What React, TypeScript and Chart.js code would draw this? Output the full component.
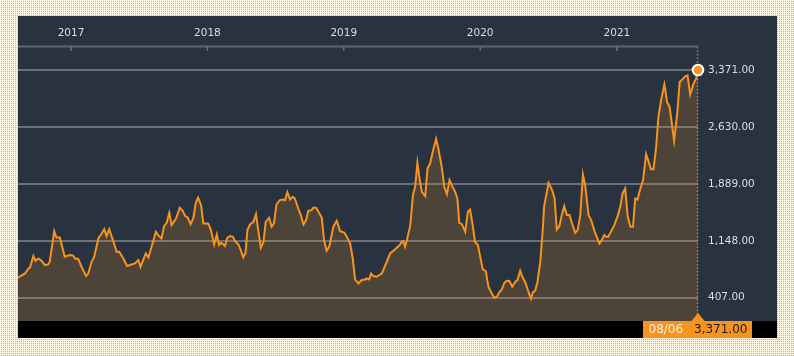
import React, { useEffect, useRef } from "react";
import { Chart, registerables } from "chart.js";

Chart.register(...registerables);

const dates: string[] = [
  "2016-08-12","2016-08-22","2016-08-31","2016-09-09","2016-09-13","2016-09-22","2016-09-28","2016-10-05","2016-10-14","2016-10-23",
  "2016-11-01","2016-11-05","2016-11-17","2016-11-23","2016-12-02","2016-12-15","2016-12-29","2017-01-07","2017-01-12","2017-01-20",
  "2017-01-29","2017-02-10","2017-02-16","2017-02-25","2017-03-04","2017-03-15","2017-03-24","2017-03-31","2017-04-06","2017-04-13",
  "2017-04-24","2017-05-03","2017-05-10","2017-05-21","2017-05-31","2017-06-12","2017-06-21","2017-06-30","2017-07-06","2017-07-13",
  "2017-07-20","2017-07-27","2017-08-07","2017-08-16","2017-08-22","2017-08-31","2017-09-07","2017-09-14","2017-09-21","2017-09-27",
  "2017-10-09","2017-10-19","2017-10-27","2017-11-02","2017-11-09","2017-11-17","2017-11-24","2017-12-01","2017-12-07","2017-12-15",
  "2017-12-21","2018-01-03","2018-01-10","2018-01-19","2018-01-26","2018-02-01","2018-02-06","2018-02-12","2018-02-17","2018-02-23",
  "2018-03-02","2018-03-10","2018-03-16","2018-03-25","2018-03-31","2018-04-07","2018-04-13","2018-04-18","2018-04-25","2018-05-04",
  "2018-05-11","2018-05-17","2018-05-24","2018-05-31","2018-06-06","2018-06-15","2018-06-22","2018-06-28","2018-07-05","2018-07-14",
  "2018-07-23","2018-07-28","2018-08-03","2018-08-10","2018-08-17","2018-08-23","2018-09-01","2018-09-08","2018-09-15","2018-09-22",
  "2018-09-28","2018-10-07","2018-10-11","2018-10-19","2018-10-25","2018-11-03","2018-11-09","2018-11-16","2018-11-23","2018-12-04",
  "2018-12-13","2018-12-22","2019-01-02","2019-01-09","2019-01-18","2019-01-25","2019-01-31","2019-02-09","2019-02-18","2019-02-27",
  "2019-03-03","2019-03-10","2019-03-15","2019-03-21","2019-03-30","2019-04-13","2019-04-26","2019-05-05","2019-05-18","2019-06-01",
  "2019-06-05","2019-06-09","2019-06-14","2019-06-19","2019-06-28","2019-07-05","2019-07-11","2019-07-17","2019-07-22","2019-07-29",
  "2019-08-07","2019-08-13","2019-08-20","2019-08-27","2019-09-05","2019-09-11","2019-09-20","2019-09-27","2019-10-04","2019-10-11",
  "2019-10-17","2019-10-26","2019-11-01","2019-11-06","2019-11-13","2019-11-22","2019-11-29","2019-12-05","2019-12-12","2019-12-18",
  "2019-12-26","2020-01-01","2020-01-08","2020-01-16","2020-01-23","2020-02-01","2020-02-08","2020-02-15","2020-02-22","2020-02-28",
  "2020-03-06","2020-03-12","2020-03-19","2020-03-27","2020-04-04","2020-04-10","2020-04-17","2020-04-23","2020-05-02","2020-05-09",
  "2020-05-16","2020-05-21","2020-05-27","2020-06-02","2020-06-10","2020-06-17","2020-06-20","2020-07-02","2020-07-11","2020-07-18",
  "2020-07-24","2020-07-31","2020-08-07","2020-08-13","2020-08-20","2020-08-27","2020-09-03","2020-09-11","2020-09-18","2020-09-25",
  "2020-10-02","2020-10-08","2020-10-17","2020-10-24","2020-11-02","2020-11-15","2020-11-20","2020-11-28","2020-12-03","2020-12-09",
  "2020-12-18","2020-12-25","2021-01-03","2021-01-10","2021-01-16","2021-01-23","2021-01-30","2021-02-06","2021-02-13","2021-02-19",
  "2021-02-25","2021-03-04","2021-03-12","2021-03-20","2021-03-27","2021-04-02","2021-04-09","2021-04-16","2021-04-22","2021-04-30",
  "2021-05-08","2021-05-12","2021-05-15","2021-05-22","2021-05-28","2021-06-03","2021-06-11","2021-06-18","2021-06-27","2021-07-03",
  "2021-07-09","2021-07-16","2021-07-25","2021-08-01","2021-08-06",
];

const prices: number[] = [
  667, 697, 723, 788, 797, 949, 888, 918, 888, 832,
  840, 875, 1274, 1191, 1191, 940, 962, 953, 914, 914,
  810, 689, 723, 875, 940, 1178, 1243, 1300, 1209, 1300,
  1144, 1005, 1005, 918, 819, 840, 853, 897, 810, 897,
  983, 931, 1113, 1265, 1222, 1178, 1339, 1382, 1512, 1352,
  1438, 1577, 1538, 1473, 1451, 1365, 1438, 1642, 1711, 1612,
  1373, 1373, 1295, 1100, 1230, 1092, 1122, 1105, 1079, 1187,
  1209, 1200, 1144, 1100, 1027, 931, 992, 1287, 1360, 1395,
  1495, 1287, 1057, 1135, 1395, 1447, 1330, 1373, 1625, 1677,
  1685, 1677, 1780, 1685, 1720, 1698, 1568, 1482, 1360, 1417,
  1538, 1547, 1577, 1577, 1525, 1451, 1157, 1018, 1070, 1330,
  1408, 1274, 1256, 1200, 1113, 918, 645, 593, 637, 645,
  658, 645, 723, 689, 680, 723, 875, 983, 1035, 1100,
  1135, 1144, 1070, 1157, 1352, 1742, 1850, 2162, 1980, 1785,
  1729, 2088, 2153, 2305, 2474, 2348, 2110, 1850, 1755, 1937,
  1872, 1785, 1698, 1382, 1365, 1265, 1525, 1555, 1352, 1135,
  1092, 940, 775, 754, 550, 463, 407, 420, 485, 515,
  602, 628, 624, 550, 615, 637, 758, 680, 593, 485,
  394, 476, 498, 602, 875, 1330, 1590, 1902, 1815, 1707,
  1295, 1339, 1495, 1599, 1482, 1482, 1373, 1252, 1287, 1482,
  2010, 1872, 1482, 1417, 1274, 1113, 1144, 1222, 1200, 1200,
  1287, 1352, 1469, 1590, 1763, 1828, 1460, 1330, 1330, 1698,
  1685, 1815, 1937, 2275, 2175, 2080, 2080, 2370, 2760, 2998,
  3180, 3063, 2955, 2890, 2673, 2448, 2782, 3215, 3258, 3288,
  3301, 3050, 3193, 3258, 3371,
];

const yearTicks: string[] = ["2017-01-01", "2018-01-01", "2019-01-01", "2020-01-01", "2021-01-01"];
const priceTicks: number[] = [407, 1148, 1889, 2630, 3371];
const priceMin = 104;
const priceMax = 3670;

const ORANGE = "#f7931e";
const PANEL_BG = "#29333f";
const GRID = "#6b7079";
const LABEL = "#d9dde2";
const FONT = "DejaVu Sans";

const fmt = (v: number) =>
  v.toLocaleString("en-US", { minimumFractionDigits: 2, maximumFractionDigits: 2 });

const overlayPlugin = {
  id: "overlay",
  beforeDatasetsDraw(chart: any) {
    const { ctx, chartArea: ca, scales } = chart;
    const xs = scales.x;
    const lastX = xs.getPixelForValue(Date.parse(dates[dates.length - 1]));
    ctx.save();
    ctx.strokeStyle = "#8a8478";
    ctx.lineWidth = 1.5;
    ctx.setLineDash([1.5, 2]);
    ctx.beginPath();
    ctx.moveTo(Math.round(lastX) - 0.5, ca.top);
    ctx.lineTo(Math.round(lastX) - 0.5, ca.bottom);
    ctx.stroke();
    ctx.restore();
  },
  afterDraw(chart: any) {
    const { ctx, chartArea: ca, scales, width, height } = chart;
    const xs = scales.x;
    ctx.save();
    ctx.strokeStyle = "#5f6670";
    ctx.lineWidth = 2;
    ctx.beginPath();
    ctx.moveTo(0, ca.top - 0.5);
    ctx.lineTo(ca.right, ca.top - 0.5);
    ctx.stroke();
    ctx.lineWidth = 1.4;
    ctx.strokeStyle = "#6f7680";
    xs.ticks.forEach((t: any) => {
      const px = xs.getPixelForValue(t.value);
      ctx.beginPath();
      ctx.moveTo(px, ca.top);
      ctx.lineTo(px, ca.top + 4);
      ctx.stroke();
    });
    ctx.fillStyle = "#000";
    ctx.fillRect(0, ca.bottom, width, height - ca.bottom);
    const lastX = xs.getPixelForValue(Date.parse(dates[dates.length - 1]));
    const boxLeft = lastX - 55;
    const boxW = 109;
    ctx.fillStyle = ORANGE;
    ctx.fillRect(boxLeft, ca.bottom, boxW, height - ca.bottom);
    ctx.beginPath();
    ctx.moveTo(lastX - 6.5, ca.bottom);
    ctx.lineTo(lastX, ca.bottom - 8);
    ctx.lineTo(lastX + 6.5, ca.bottom);
    ctx.closePath();
    ctx.fill();
    const last = dates[dates.length - 1];
    const mmdd = last.slice(5, 7) + "/" + last.slice(8, 10);
    ctx.font = `12px "${FONT}"`;
    ctx.textBaseline = "middle";
    ctx.textAlign = "left";
    const ty = ca.bottom + (height - ca.bottom) / 2 + 0.5;
    ctx.fillStyle = "#fff4e6";
    ctx.fillText(mmdd, boxLeft + 5.5, ty);
    ctx.fillStyle = "#1a1a1a";
    ctx.fillText(fmt(prices[prices.length - 1]), boxLeft + 51, ty);
    ctx.restore();
  },
};

export default function App() {
  const ref = useRef<HTMLCanvasElement | null>(null);

  useEffect(() => {
    if (!ref.current) return;
    const lastIdx = prices.length - 1;
    const chart = new Chart(ref.current, {
      type: "line",
      data: {
        datasets: [
          {
            data: dates.map((d, i) => ({ x: Date.parse(d), y: prices[i] })),
            borderColor: ORANGE,
            borderWidth: 2,
            backgroundColor: "rgba(247,147,30,0.17)",
            fill: "start",
            tension: 0,
            clip: false as any,
            pointRadius: (c: any) => (c.dataIndex === lastIdx ? 5.3 : 0),
            pointHoverRadius: 0,
            pointBackgroundColor: ORANGE,
            pointBorderColor: "#ffffff",
            pointBorderWidth: 2,
          } as any,
        ],
      },
      options: {
        animation: false,
        responsive: false,
        events: [],
        layout: { autoPadding: false, padding: { top: 0, left: 0, right: 0, bottom: 17 } },
        plugins: { legend: { display: false }, tooltip: { enabled: false } },
        scales: {
          x: {
            type: "linear",
            position: "top",
            min: Date.parse(dates[0]),
            max: Date.parse(dates[dates.length - 1]),
            afterBuildTicks: (axis: any) => {
              axis.ticks = yearTicks.map((d) => ({ value: Date.parse(d) }));
            },
            afterFit: (axis: any) => {
              axis.height = 31;
              axis.paddingLeft = 0;
              axis.paddingRight = 0;
            },
            ticks: {
              autoSkip: false,
              maxRotation: 0,
              padding: 7,
              color: LABEL,
              font: { family: FONT, size: 10.5 },
              callback: (v: any) => String(new Date(Number(v)).getUTCFullYear()),
            },
            grid: { display: false, drawTicks: false },
            border: { display: false },
          },
          y: {
            position: "right",
            min: priceMin,
            max: priceMax,
            afterBuildTicks: (axis: any) => {
              axis.ticks = priceTicks.map((v) => ({ value: v }));
            },
            afterFit: (axis: any) => {
              axis.width = 79;
              axis.paddingTop = 0;
              axis.paddingBottom = 0;
            },
            ticks: {
              padding: 10,
              color: LABEL,
              font: { family: FONT, size: 10.5 },
              callback: (v: any) => fmt(Number(v)),
            },
            grid: { color: GRID, lineWidth: 2, drawTicks: false },
            border: { display: false },
          },
        },
      } as any,
      plugins: [overlayPlugin],
    });
    return () => chart.destroy();
  }, []);

  return (
    <div
      style={{
        position: "fixed",
        inset: 0,
        backgroundColor: "#fcf5e2",
        backgroundImage:
          "conic-gradient(from 90deg at 1px 1px, #c9b38e 90deg, transparent 0)",
        backgroundSize: "2px 2px",
      }}
    >
      <div
        style={{
          position: "absolute",
          left: 18,
          top: 16,
          width: 759,
          height: 322,
          background: PANEL_BG,
        }}
      >
        <canvas ref={ref} width={759} height={322} style={{ display: "block" }} />
      </div>
    </div>
  );
}
